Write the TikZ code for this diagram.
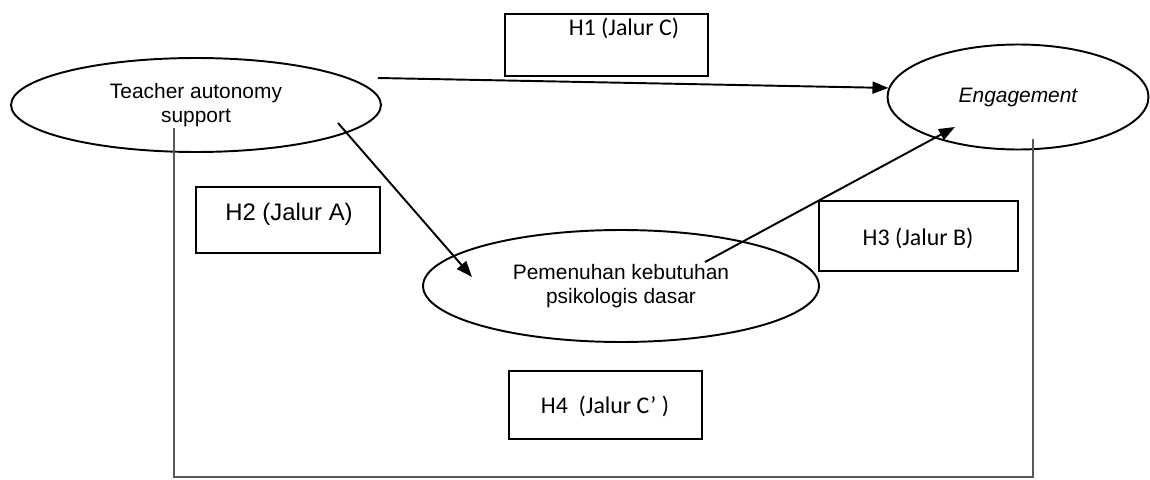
\documentclass[tikz,border=0pt]{standalone}
\usepackage{fontspec}
\setmainfont{Liberation Sans}
\newfontfamily\calib{Carlito}
\usetikzlibrary{shapes.geometric,arrows.meta}
\begin{document}
\begin{tikzpicture}[x=0.02cm,y=-0.02cm,
  oval/.style={draw=black, line width=1.1pt, ellipse, inner sep=0pt, align=center, font=\fontsize{11.9}{13.6}\selectfont},
  hbox/.style={draw=black, line width=1.1pt, rectangle, inner sep=0pt},
  hlabA/.style={anchor=base, inner sep=0pt, font=\fontsize{13.6}{16}\selectfont},
  hlabC/.style={anchor=base, inner sep=0pt, font=\calib\fontsize{13.6}{16}\selectfont},
  arr/.style={line width=1.1pt, -{Triangle[length=0.32cm,width=0.24cm]}},
  frameline/.style={draw=black!65, line width=0.7pt}]
\useasboundingbox (0,0) rectangle (1150,480);

% ellipses
\node[oval, minimum width=7.4cm, minimum height=1.88cm] (teacher) at (196,105) {Teacher autonomy\\support};
\node[oval, minimum width=5.22cm, minimum height=2.1cm] (engage) at (1018,97) {\itshape Engagement};
\node[oval, minimum width=7.92cm, minimum height=2.24cm] (pemen) at (621,286) {Pemenuhan kebutuhan\\psikologis dasar};

% hypothesis boxes
\node[hbox, minimum width=4.06cm, minimum height=1.24cm] (h1) at (606.5,45) {};
\node[hlabC] (h1t) at (624,35) {H1 (Jalur C)};
\node[hbox, minimum width=3.68cm, minimum height=1.32cm] (h2) at (288,220) {};
\node[hlabA] (h2t) at (289,220) {H2 (Jalur A)};
\node[hbox, minimum width=3.98cm, minimum height=1.40cm] (h3) at (918.5,236) {};
\node[hlabC] (h3t) at (918,245) {H3 (Jalur B)};
\node[hbox, minimum width=3.86cm, minimum height=1.36cm] (h4) at (605.5,405) {};
\node[hlabC] (h4t) at (605,413) {H4\ \ (Jalur C’ )};

% frame lines for the indirect path
\coordinate (fl) at (174,128);
\coordinate (fbl) at (174,477);
\coordinate (fbr) at (1033,477);
\coordinate (fr) at (1033,139);
\draw[frameline] (fl) -- (fbl) -- (fbr) -- (fr);

% arrows
\coordinate (a1s) at (378,78);
\draw[arr] (a1s) -- (engage.176);
\coordinate (a2s) at (338,123);
\coordinate (a2e) at (472,277);
\draw[arr] (a2s) -- (a2e);
\coordinate (a3s) at (705,262);
\coordinate (a3e) at (955,127);
\draw[arr] (a3s) -- (a3e);
\end{tikzpicture}
\end{document}
